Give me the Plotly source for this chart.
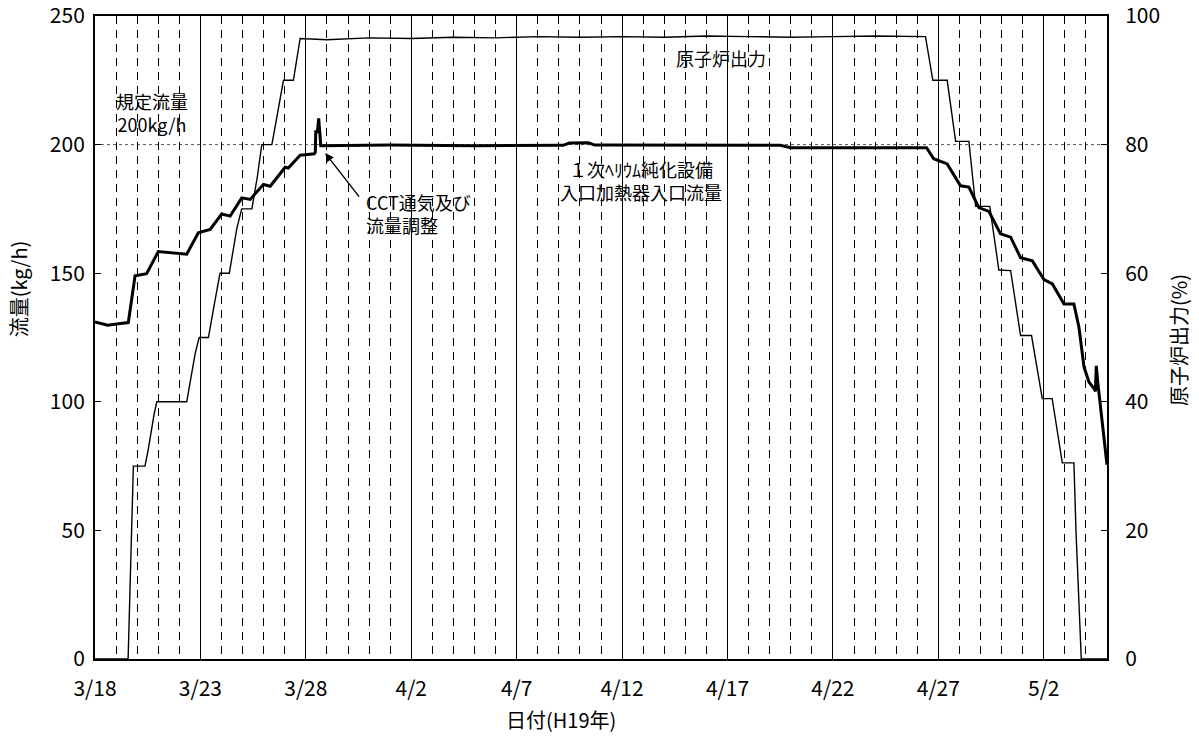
import pandas as pd
import plotly.graph_objects as go

# Period shown on the time axis (H19 = 2007)
START = pd.Timestamp("2007-03-18")
END = pd.Timestamp("2007-05-05")

# Reactor power (%), elapsed days from 3/18 00:00
power_day = [0.00, 1.57, 1.82, 2.37, 2.52, 2.64, 2.80, 2.93,
             4.35, 4.51, 4.75, 4.94, 5.38, 5.65, 5.93, 6.37,
             6.73, 6.96, 7.44, 7.70, 7.91, 8.39, 8.65, 8.94,
             9.41, 9.60, 9.73, 11.0, 13.0, 15.0, 17.0, 19.0,
             21.0, 23.0, 25.0, 27.0, 29.0, 31.0, 33.0, 35.0,
             37.0, 39.39, 39.55, 39.74, 40.42, 40.62, 40.82, 41.45,
             41.77, 42.44, 42.87, 43.43, 43.90, 44.42, 44.93, 45.40,
             45.88, 46.43, 46.53, 46.78, 48.00]
power_pct = [0.0, 0.0, 30.0, 30.0, 32.5, 35.0, 38.0, 40.0,
             40.0, 43.0, 47.5, 50.0, 50.0, 55.0, 60.0, 60.0,
             67.0, 70.0, 70.0, 75.0, 80.0, 80.0, 85.0, 90.0,
             90.0, 94.0, 96.5, 96.3, 96.6, 96.5, 96.7, 96.6,
             96.8, 96.7, 96.8, 96.7, 96.9, 96.8, 96.7, 96.8,
             96.9, 96.8, 93.4, 90.0, 90.0, 85.0, 80.5, 80.5,
             70.4, 70.4, 60.5, 60.4, 50.3, 50.3, 40.5, 40.5,
             30.5, 30.5, 19.8, 0.0, 0.0]

# Primary helium purification inlet heater flow (kg/h)
flow_day = [0.00, 0.60, 1.20, 1.58, 1.90, 2.45, 3.00, 3.70,
            4.35, 4.90, 5.46, 6.01, 6.41, 6.96, 7.36, 7.99,
            8.31, 9.02, 9.17, 9.73, 10.40, 10.45, 10.47, 10.55,
            10.61, 10.71, 14.0, 18.0, 22.2, 22.5, 23.4, 23.7,
            27.0, 32.5, 33.0, 36.0, 39.44, 39.78, 40.42, 41.05,
            41.45, 41.92, 42.40, 42.95, 43.43, 43.90, 44.46, 45.01,
            45.41, 45.96, 46.43, 46.67, 46.91, 47.15, 47.40, 47.45,
            47.49, 47.57, 48.00]
flow_kgh = [131.0, 129.8, 130.4, 130.8, 149.0, 149.8, 158.4, 158.0,
            157.4, 165.7, 167.0, 173.0, 172.2, 179.3, 178.7, 184.5,
            183.8, 191.2, 190.9, 195.9, 196.4, 197.0, 205.0, 205.0,
            210.2, 199.6, 199.8, 199.6, 199.7, 200.6, 200.7, 199.8,
            199.8, 199.7, 198.8, 198.7, 198.8, 194.5, 192.5, 184.0,
            183.5, 175.5, 174.0, 165.3, 164.0, 156.0, 154.8, 147.5,
            145.8, 138.0, 138.0, 129.0, 113.5, 107.6, 105.0, 104.0,
            114.0, 107.0, 75.5]

RATED_FLOW = 200  # kg/h

FONT = "Noto Sans CJK JP"
DAY_MS = 86400000


def to_dates(days):
    return [START + pd.Timedelta(days=d) for d in days]


fig = go.Figure()
fig.add_trace(go.Scatter(
    x=to_dates(flow_day), y=flow_kgh, mode="lines",
    line=dict(color="black", width=3), yaxis="y", showlegend=False))
fig.add_trace(go.Scatter(
    x=to_dates(power_day), y=power_pct, mode="lines",
    line=dict(color="black", width=1.4), yaxis="y2", showlegend=False))

# Rated flow reference line
fig.add_shape(type="line", xref="paper", x0=0, x1=1, yref="y",
              y0=RATED_FLOW, y1=RATED_FLOW, layer="below",
              line=dict(color="#555555", width=1, dash="dot"))


def label(day, y, text, anchor="center", align="center"):
    fig.add_annotation(x=START + pd.Timedelta(days=day), y=y, xref="x", yref="y",
                       text=text, showarrow=False, xanchor=anchor, yanchor="middle",
                       align=align, font=dict(family=FONT, size=18, color="black"))


label(29.71, 233.5, "原子炉出力")
label(25.89, 186.2, "１次ﾍﾘｳﾑ純化設備<br>入口加熱器入口流量")
label(2.69, 212.4, "規定流量<br>200kg/h")
label(12.77, 173.2, "CCT通気及び<br>流量調整", anchor="left", align="left")

# Arrow pointing at the CCT venting / flow adjustment event
fig.add_annotation(x=START + pd.Timedelta(days=10.92), y=196.7, xref="x", yref="y",
                   text="", showarrow=True, ax=35, ay=45,
                   arrowhead=2, arrowsize=1.2, arrowwidth=1.4, arrowcolor="black")


def axis_title(x, y, text, angle=0):
    fig.add_annotation(x=x, y=y, xref="paper", yref="paper", text=text,
                       textangle=angle, showarrow=False,
                       xanchor="center", yanchor="middle",
                       font=dict(family=FONT, size=20, color="black"))


axis_title(-0.076, 0.575, "流量(kg/h)", -90)
axis_title(1.070, 0.496, "原子炉出力(%)", -90)
axis_title(0.4605, -0.094, "日付(H19年)")

tickfont = dict(family=FONT, size=21, color="black")

fig.update_layout(
    width=1199, height=739,
    margin=dict(l=95, r=92, t=16, b=80, autoexpand=False),
    paper_bgcolor="white", plot_bgcolor="white",
    font=dict(family=FONT, color="black"),
    xaxis=dict(
        type="date", range=[START, END], automargin=False,
        tick0=START, dtick=5 * DAY_MS, tickformat="%-m/%-d",
        ticks="", showgrid=True, gridcolor="black", gridwidth=1,
        minor=dict(dtick=DAY_MS, tick0=START, showgrid=True, gridcolor="black",
                   gridwidth=1, griddash="8px,6px"),
        showline=True, linecolor="black", linewidth=2, mirror=True,
        zeroline=False, tickfont=tickfont, ticklabelstandoff=10,
        ticklabeloverflow="allow",
    ),
    yaxis=dict(
        range=[0, 250], tickmode="array", tickvals=[0, 50, 100, 150, 200, 250],
        automargin=False,
        ticks="inside", ticklen=6, tickcolor="black",
        showgrid=False, zeroline=False, showline=True, linecolor="black",
        linewidth=2, tickfont=tickfont, ticklabelstandoff=4,
        ticklabeloverflow="allow",
    ),
    yaxis2=dict(
        range=[0, 100], tickmode="array", tickvals=[0, 20, 40, 60, 80, 100],
        automargin=False,
        overlaying="y", side="right",
        ticks="inside", ticklen=6, tickcolor="black",
        showgrid=False, zeroline=False, showline=True, linecolor="black",
        linewidth=2, tickfont=tickfont, ticklabelstandoff=12,
        ticklabeloverflow="allow",
    ),
)

fig.write_html("out.html")
